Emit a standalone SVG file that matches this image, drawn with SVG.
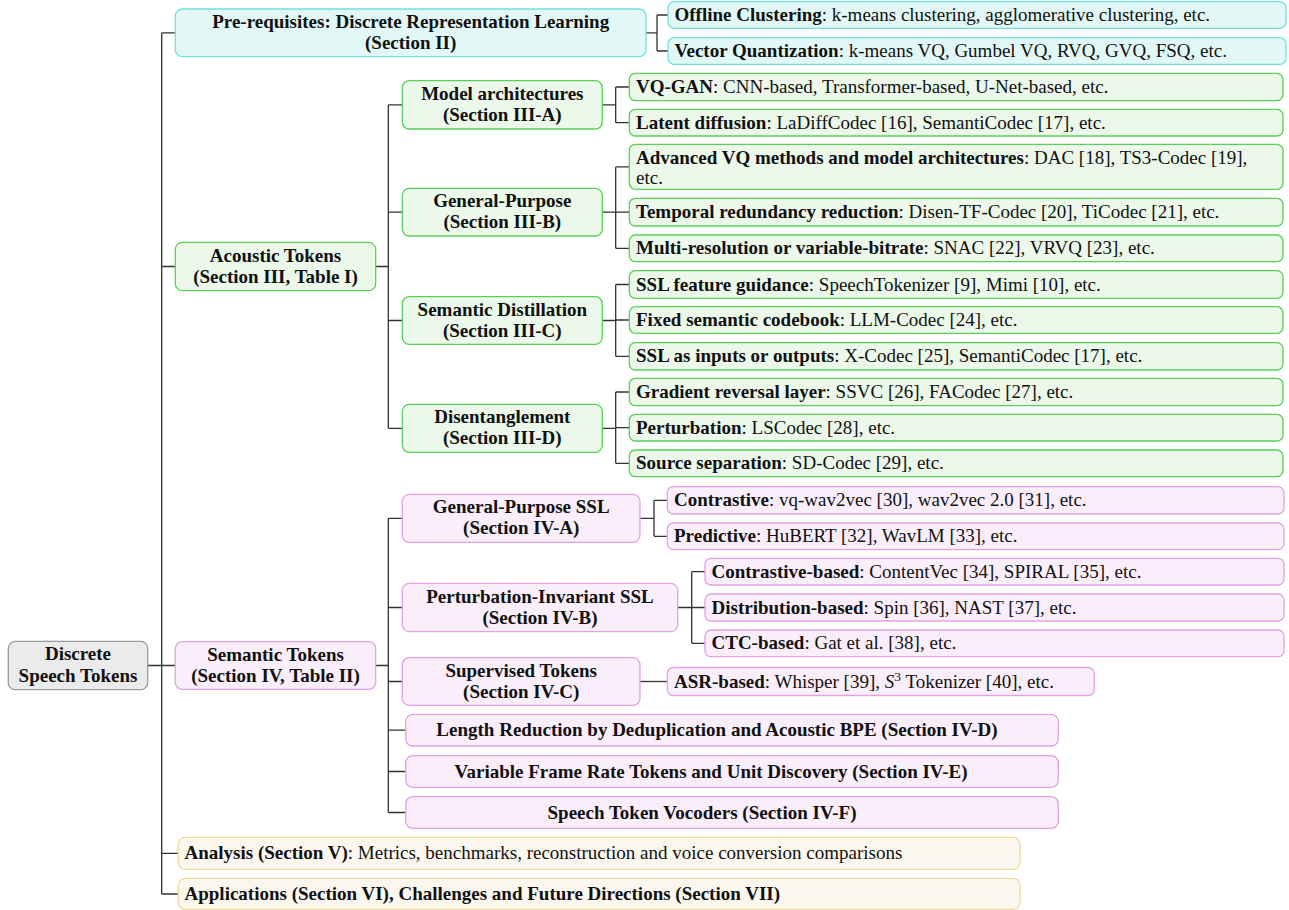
<svg xmlns="http://www.w3.org/2000/svg" width="1289" height="910" viewBox="0 0 1289 910">
  <style>
    text { font-family: "Liberation Serif", "Times New Roman", serif; font-size: 19px; fill: #111; }
    .b { font-weight: bold; }
    .c { text-anchor: middle; font-weight: bold; }
    .gray { fill: #ebebeb; stroke: #9a9a9a; stroke-width: 1.3; }
    .cyan { fill: #e2f8f6; stroke: #6fe3da; stroke-width: 1.3; }
    .green { fill: #ebf8ea; stroke: #58d158; stroke-width: 1.3; }
    .pink { fill: #f9eef9; stroke: #e3a2e3; stroke-width: 1.3; }
    .yellow { fill: #fcf7ee; stroke: #f1d99b; stroke-width: 1.3; }
    .links path { fill: none; stroke: #333; stroke-width: 1.3; }
  </style>

  <!-- connectors -->
  <g id="connectors" class="links">
    <path d="M161.7 32.8 V894 M161.7 32.8 H175.3 M161.7 266.5 H175.3 M147.7 665.5 H175.3 M161.7 853.3 H178.3 M161.7 894 H178.3"/>
    <path d="M646 32.8 H657 M657 15 V51 M657 15 H668 M657 51 H668"/>
    <path d="M375.7 266.5 H388.3 M388.3 104.8 V428.3 M388.3 104.8 H402.3 M388.3 212.2 H402.3 M388.3 320.5 H402.3 M388.3 428.3 H402.3"/>
    <path d="M602.3 104.8 H615.7 M615.7 87 V122.7 M615.7 87 H629.3 M615.7 122.7 H629.3"/>
    <path d="M602.3 212.2 H615.7 M615.7 166.8 V248.3 M615.7 166.8 H629.3 M615.7 212.2 H629.3 M615.7 248.3 H629.3"/>
    <path d="M602.3 320.5 H615.7 M615.7 284.5 V356.3 M615.7 284.5 H629.3 M615.7 320 H629.3 M615.7 356.3 H629.3"/>
    <path d="M602.3 428.3 H615.7 M615.7 392 V463.3 M615.7 392 H629.3 M615.7 427.7 H629.3 M615.7 463.3 H629.3"/>
    <path d="M375.7 665.5 H388.3 M388.3 518.3 V812.5 M388.3 518.3 H402.3 M388.3 607.5 H402.3 M388.3 681.5 H402.3 M388.3 730.2 H405.7 M388.3 771.5 H405.7 M388.3 812.5 H405.7"/>
    <path d="M640 518.3 H654 M654 500.3 V536.3 M654 500.3 H667.3 M654 536.3 H667.3"/>
    <path d="M677.7 607.5 H691.7 M691.7 571.7 V643.3 M691.7 571.7 H705 M691.7 607.5 H705 M691.7 643.3 H705"/>
    <path d="M640 681.5 H667.3"/>
  </g>

  <!-- root -->
  <g id="root">
    <rect class="gray" x="8.3" y="641.3" width="139.4" height="48.4" rx="7"/>
    <text class="c" x="78" y="660">Discrete</text>
    <text class="c" x="78" y="681.5">Speech Tokens</text>
  </g>

  <!-- prerequisites -->
  <g id="prereq">
    <rect class="cyan" x="175.3" y="9" width="470.7" height="47.7" rx="7"/>
    <text class="c" x="410.7" y="27.8">Pre-requisites: Discrete Representation Learning</text>
    <text class="c" x="410.7" y="48.8">(Section II)</text>
  </g>
  <g id="offline-clustering">
    <rect class="cyan" x="668" y="1.7" width="618" height="26.6" rx="6"/>
    <text x="674.5" y="21"><tspan class="b">Offline Clustering</tspan>: k-means clustering, agglomerative clustering, etc.</text>
  </g>
  <g id="vector-quantization">
    <rect class="cyan" x="668" y="37.7" width="618" height="26.6" rx="6"/>
    <text x="674.5" y="57"><tspan class="b">Vector Quantization</tspan>: k-means VQ, Gumbel VQ, RVQ, GVQ, FSQ, etc.</text>
  </g>

  <!-- acoustic tokens -->
  <g id="acoustic">
    <rect class="green" x="175.3" y="242.3" width="200.4" height="48.4" rx="7"/>
    <text class="c" x="275.5" y="261.5">Acoustic Tokens</text>
    <text class="c" x="275.5" y="282.5">(Section III, Table I)</text>
  </g>
  <g id="model-architectures">
    <rect class="green" x="402.3" y="80.7" width="200" height="48.3" rx="7"/>
    <text class="c" x="502.3" y="99.8">Model architectures</text>
    <text class="c" x="502.3" y="120.8">(Section III-A)</text>
  </g>
  <g id="general-purpose">
    <rect class="green" x="402.3" y="188.3" width="200" height="47.7" rx="7"/>
    <text class="c" x="502.3" y="207.2">General-Purpose</text>
    <text class="c" x="502.3" y="228.2">(Section III-B)</text>
  </g>
  <g id="semantic-distillation">
    <rect class="green" x="402.3" y="296.7" width="200" height="47.6" rx="7"/>
    <text class="c" x="502.3" y="315.5">Semantic Distillation</text>
    <text class="c" x="502.3" y="336.5">(Section III-C)</text>
  </g>
  <g id="disentanglement">
    <rect class="green" x="402.3" y="404.3" width="200" height="48" rx="7"/>
    <text class="c" x="502.3" y="423.3">Disentanglement</text>
    <text class="c" x="502.3" y="444.3">(Section III-D)</text>
  </g>

  <g id="vq-gan">
    <rect class="green" x="629.3" y="73.3" width="653.7" height="27.4" rx="6"/>
    <text x="636" y="93"><tspan class="b">VQ-GAN</tspan>: CNN-based, Transformer-based, U-Net-based, etc.</text>
  </g>
  <g id="latent-diffusion">
    <rect class="green" x="629.3" y="109.3" width="653.7" height="26.7" rx="6"/>
    <text x="636" y="128.7"><tspan class="b">Latent diffusion</tspan>: LaDiffCodec [16], SemantiCodec [17], etc.</text>
  </g>
  <g id="advanced-vq">
    <rect class="green" x="629.3" y="144.3" width="653.7" height="45" rx="6"/>
    <text x="636" y="163.5"><tspan class="b">Advanced VQ methods and model architectures</tspan>: DAC [18], TS3-Codec [19],</text>
    <text x="636" y="184">etc.</text>
  </g>
  <g id="temporal-redundancy">
    <rect class="green" x="629.3" y="198.3" width="653.7" height="27.7" rx="6"/>
    <text x="636" y="218.2"><tspan class="b">Temporal redundancy reduction</tspan>: Disen-TF-Codec [20], TiCodec [21], etc.</text>
  </g>
  <g id="multi-resolution">
    <rect class="green" x="629.3" y="235" width="653.7" height="26.7" rx="6"/>
    <text x="636" y="254.3"><tspan class="b">Multi-resolution or variable-bitrate</tspan>: SNAC [22], VRVQ [23], etc.</text>
  </g>
  <g id="ssl-feature-guidance">
    <rect class="green" x="629.3" y="270.7" width="653.7" height="27.6" rx="6"/>
    <text x="636" y="290.5"><tspan class="b">SSL feature guidance</tspan>: SpeechTokenizer [9], Mimi [10], etc.</text>
  </g>
  <g id="fixed-codebook">
    <rect class="green" x="629.3" y="306.7" width="653.7" height="26.6" rx="6"/>
    <text x="636" y="326"><tspan class="b">Fixed semantic codebook</tspan>: LLM-Codec [24], etc.</text>
  </g>
  <g id="ssl-io">
    <rect class="green" x="629.3" y="342.7" width="653.7" height="27.3" rx="6"/>
    <text x="636" y="362.3"><tspan class="b">SSL as inputs or outputs</tspan>: X-Codec [25], SemantiCodec [17], etc.</text>
  </g>
  <g id="gradient-reversal">
    <rect class="green" x="629.3" y="378.3" width="653.7" height="27.4" rx="6"/>
    <text x="636" y="398"><tspan class="b">Gradient reversal layer</tspan>: SSVC [26], FACodec [27], etc.</text>
  </g>
  <g id="perturbation">
    <rect class="green" x="629.3" y="414.3" width="653.7" height="26.7" rx="6"/>
    <text x="636" y="433.7"><tspan class="b">Perturbation</tspan>: LSCodec [28], etc.</text>
  </g>
  <g id="source-separation">
    <rect class="green" x="629.3" y="450" width="653.7" height="26.7" rx="6"/>
    <text x="636" y="469.3"><tspan class="b">Source separation</tspan>: SD-Codec [29], etc.</text>
  </g>

  <!-- semantic tokens -->
  <g id="semantic">
    <rect class="pink" x="175.3" y="641.7" width="200.4" height="47.6" rx="7"/>
    <text class="c" x="275.5" y="660.5">Semantic Tokens</text>
    <text class="c" x="275.5" y="681.5">(Section IV, Table II)</text>
  </g>
  <g id="general-purpose-ssl">
    <rect class="pink" x="402.3" y="494.3" width="237.7" height="48" rx="7"/>
    <text class="c" x="521.2" y="513.3">General-Purpose SSL</text>
    <text class="c" x="521.2" y="534.3">(Section IV-A)</text>
  </g>
  <g id="perturbation-invariant-ssl">
    <rect class="pink" x="402.3" y="583.3" width="275.4" height="48.4" rx="7"/>
    <text class="c" x="540" y="602.5">Perturbation-Invariant SSL</text>
    <text class="c" x="540" y="623.5">(Section IV-B)</text>
  </g>
  <g id="supervised-tokens">
    <rect class="pink" x="402.3" y="657.7" width="237.7" height="47.6" rx="7"/>
    <text class="c" x="521.2" y="676.5">Supervised Tokens</text>
    <text class="c" x="521.2" y="697.5">(Section IV-C)</text>
  </g>
  <g id="length-reduction">
    <rect class="pink" x="405.7" y="714.3" width="652.6" height="31.7" rx="7"/>
    <text class="c" x="717" y="736.2">Length Reduction by Deduplication and Acoustic BPE (Section IV-D)</text>
  </g>
  <g id="variable-frame-rate">
    <rect class="pink" x="405.7" y="755.7" width="652.6" height="31.6" rx="7"/>
    <text class="c" x="711" y="777.5">Variable Frame Rate Tokens and Unit Discovery (Section IV-E)</text>
  </g>
  <g id="vocoders">
    <rect class="pink" x="405.7" y="796.7" width="652.6" height="31.6" rx="7"/>
    <text class="c" x="702" y="818.5">Speech Token Vocoders (Section IV-F)</text>
  </g>

  <g id="contrastive">
    <rect class="pink" x="667.3" y="486.7" width="616.7" height="27.3" rx="6"/>
    <text x="674" y="506.3"><tspan class="b">Contrastive</tspan>: vq-wav2vec [30], wav2vec 2.0 [31], etc.</text>
  </g>
  <g id="predictive">
    <rect class="pink" x="667.3" y="523" width="616.7" height="26.6" rx="6"/>
    <text x="674" y="542.3"><tspan class="b">Predictive</tspan>: HuBERT [32], WavLM [33], etc.</text>
  </g>
  <g id="contrastive-based">
    <rect class="pink" x="705" y="558.3" width="579" height="26.7" rx="6"/>
    <text x="711.5" y="577.7"><tspan class="b">Contrastive-based</tspan>: ContentVec [34], SPIRAL [35], etc.</text>
  </g>
  <g id="distribution-based">
    <rect class="pink" x="705" y="594" width="579" height="27" rx="6"/>
    <text x="711.5" y="613.5"><tspan class="b">Distribution-based</tspan>: Spin [36], NAST [37], etc.</text>
  </g>
  <g id="ctc-based">
    <rect class="pink" x="705" y="630" width="579" height="26.7" rx="6"/>
    <text x="711.5" y="649.3"><tspan class="b">CTC-based</tspan>: Gat et al. [38], etc.</text>
  </g>
  <g id="asr-based">
    <rect class="pink" x="667.3" y="667.5" width="427" height="28" rx="6"/>
    <text x="674" y="687.5"><tspan class="b">ASR-based</tspan>: Whisper [39], <tspan font-style="italic">S</tspan><tspan font-size="13.5" dy="-7">3</tspan><tspan dy="7"> Tokenizer [40], etc.</tspan></text>
  </g>

  <!-- closing sections -->
  <g id="analysis">
    <rect class="yellow" x="178.3" y="837.3" width="841.7" height="32" rx="7"/>
    <text x="184.5" y="859.3"><tspan class="b">Analysis (Section V)</tspan>: Metrics, benchmarks, reconstruction and voice conversion comparisons</text>
  </g>
  <g id="applications">
    <rect class="yellow" x="178.3" y="878.3" width="841.7" height="31" rx="7"/>
    <text class="b" x="184.5" y="900">Applications (Section VI), Challenges and Future Directions (Section VII)</text>
  </g>
</svg>
